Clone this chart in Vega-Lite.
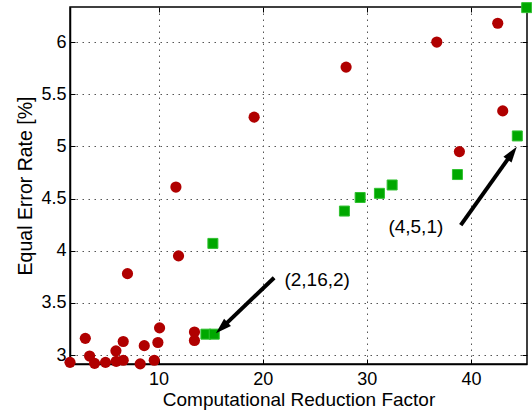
{
  "$schema": "https://vega.github.io/schema/vega-lite/v6.json",
  "width": 457,
  "height": 357,
  "autosize": {"type": "none"},
  "padding": {"left": 70, "top": 7, "right": 5, "bottom": 48},
  "background": "white",
  "config": {
    "font": "Liberation Sans",
    "view": {"stroke": "black", "strokeWidth": 1.5},
    "axis": {
      "domainColor": "black", "domainWidth": 1.5,
      "tickColor": "black", "tickWidth": 1,
      "labelColor": "black", "titleColor": "black",
      "labelFont": "Liberation Sans", "titleFont": "Liberation Sans",
      "titleFontWeight": "normal",
      "gridColor": "#555", "gridDash": [1.5, 4.5], "gridWidth": 1, "gridOpacity": 1
    }
  },
  "datasets": {
    "red": [
      {"factor": 1.5, "eer": 2.93}, {"factor": 2.97, "eer": 3.16}, {"factor": 3.38, "eer": 2.99},
      {"factor": 3.86, "eer": 2.92}, {"factor": 4.91, "eer": 2.93}, {"factor": 5.91, "eer": 3.04},
      {"factor": 5.94, "eer": 2.94}, {"factor": 6.61, "eer": 3.13}, {"factor": 6.61, "eer": 2.95},
      {"factor": 8.24, "eer": 2.915}, {"factor": 8.63, "eer": 3.09}, {"factor": 9.59, "eer": 2.95},
      {"factor": 9.94, "eer": 3.12}, {"factor": 10.1, "eer": 3.26}, {"factor": 13.45, "eer": 3.22},
      {"factor": 13.45, "eer": 3.14}, {"factor": 7.02, "eer": 3.78}, {"factor": 11.67, "eer": 4.61},
      {"factor": 11.92, "eer": 3.95}, {"factor": 19.18, "eer": 5.28}, {"factor": 28.01, "eer": 5.76},
      {"factor": 36.72, "eer": 6.0}, {"factor": 42.57, "eer": 6.18}, {"factor": 43.05, "eer": 5.34},
      {"factor": 38.89, "eer": 4.95}
    ],
    "green": [
      {"factor": 14.55, "eer": 3.2}, {"factor": 15.35, "eer": 3.2}, {"factor": 15.22, "eer": 4.07},
      {"factor": 27.85, "eer": 4.38}, {"factor": 29.36, "eer": 4.51}, {"factor": 31.21, "eer": 4.55},
      {"factor": 32.43, "eer": 4.63}, {"factor": 38.7, "eer": 4.73}, {"factor": 44.45, "eer": 5.1},
      {"factor": 45.35, "eer": 6.33}
    ],
    "arrows": [
      {"x": 21.1, "y": 3.741, "x2": 16.07, "y2": 3.26},
      {"x": 39.02, "y": 4.246, "x2": 43.94, "y2": 4.934}
    ],
    "labels": [
      {"x": 22.09, "y": 3.72, "label": "(2,16,2)"},
      {"x": 32.07, "y": 4.23, "label": "(4,5,1)"}
    ]
  },
  "layer": [
    {
      "data": {"name": "red"},
      "mark": {"type": "point", "opacity": 0},
      "encoding": {
        "x": {"field": "factor", "type": "quantitative",
              "scale": {"domain": [1.5, 45.38], "nice": false, "zero": false},
              "axis": {"orient": "top", "labels": false, "title": null, "values": [10, 20, 30, 40],
                       "tickSize": -5, "grid": false, "domain": false}},
        "y": {"field": "eer", "type": "quantitative",
              "scale": {"domain": [2.914, 6.336], "nice": false, "zero": false},
              "axis": {"orient": "right", "labels": false, "title": null, "values": [3, 3.5, 4, 4.5, 5, 5.5, 6],
                       "tickSize": -5, "grid": false, "domain": false}}
      }
    },
    {
      "data": {"name": "red"},
      "mark": {"type": "circle", "size": 125, "color": "#b00000", "opacity": 1, "clip": false},
      "encoding": {
        "x": {"field": "factor", "type": "quantitative",
              "axis": {"orient": "bottom", "values": [10, 20, 30, 40], "tickSize": -5, "grid": true,
                       "labelPadding": 11, "labelFontSize": 18, "title": "Computational Reduction Factor",
                       "titleFontSize": 19, "titlePadding": 2, "format": "d"}},
        "y": {"field": "eer", "type": "quantitative",
              "axis": {"orient": "left", "values": [3, 3.5, 4, 4.5, 5, 5.5, 6], "tickSize": -5, "grid": true,
                       "labelPadding": 9, "labelFontSize": 18, "title": "Equal Error Rate [%]",
                       "titleFontSize": 19.5, "titlePadding": 5, "format": "~g"}}
      }
    },
    {
      "data": {"name": "green"},
      "mark": {"type": "square", "size": 100, "color": "#00a800", "stroke": "#30c030", "strokeWidth": 1, "opacity": 1, "clip": false},
      "encoding": {
        "x": {"field": "factor", "type": "quantitative", "axis": null},
        "y": {"field": "eer", "type": "quantitative", "axis": null}
      }
    },
    {
      "data": {"name": "arrows"},
      "mark": {"type": "rule", "color": "black", "strokeWidth": 4},
      "encoding": {
        "x": {"field": "x", "type": "quantitative", "axis": null},
        "y": {"field": "y", "type": "quantitative", "axis": null},
        "x2": {"field": "x2"},
        "y2": {"field": "y2"}
      }
    },
    {
      "data": {"values": [{"hx": 15.51, "hy": 3.208}]},
      "mark": {"type": "point", "shape": "M0,0 L-1,3.2 L1,3.2 Z", "size": 100, "filled": true, "color": "black", "opacity": 1, "angle": 226.5},
      "encoding": {
        "x": {"field": "hx", "type": "quantitative", "axis": null},
        "y": {"field": "hy", "type": "quantitative", "axis": null}
      }
    },
    {
      "data": {"values": [{"hx": 44.4, "hy": 4.997}]},
      "mark": {"type": "point", "shape": "M0,0 L-1,3.2 L1,3.2 Z", "size": 100, "filled": true, "color": "black", "opacity": 1, "angle": 35.6},
      "encoding": {
        "x": {"field": "hx", "type": "quantitative", "axis": null},
        "y": {"field": "hy", "type": "quantitative", "axis": null}
      }
    },
    {
      "data": {"name": "labels"},
      "mark": {"type": "text", "align": "left", "baseline": "middle", "fontSize": 19, "font": "Liberation Sans", "color": "black"},
      "encoding": {
        "x": {"field": "x", "type": "quantitative", "axis": null},
        "y": {"field": "y", "type": "quantitative", "axis": null},
        "text": {"field": "label"}
      }
    }
  ],
  "resolve": {"axis": {"x": "independent", "y": "independent"}}
}
